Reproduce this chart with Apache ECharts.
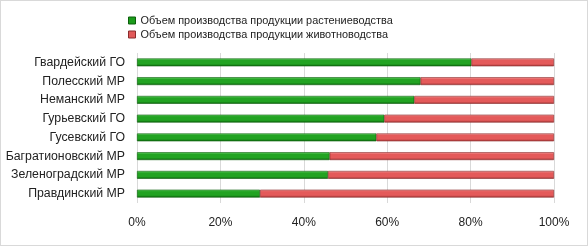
<!DOCTYPE html>
<html>
<head>
<meta charset="utf-8">
<script src="https://cdn.jsdelivr.net/npm/echarts@6/dist/echarts.min.js"></script>
<style>
  html, body { margin: 0; padding: 0; background: #fff; }
  #chart { width: 586px; height: 244px; border: 1px solid #d9d9d9; }
</style>
</head>
<body>
<div id="chart"></div>
<script>
// районы, снизу вверх
var districts = ['Правдинский МР', 'Зеленоградский МР', 'Багратионовский МР', 'Гусевский ГО',
                 'Гурьевский ГО', 'Неманский МР', 'Полесский МР', 'Гвардейский ГО'];
var cropShare = [29.5, 45.8, 46.2, 57.4, 59.3, 66.5, 68.0, 80.2];
var livestockShare = [70.5, 54.2, 53.8, 42.6, 40.7, 33.5, 32.0, 19.8];
var seriesNames = ['Объем производства продукции растениеводства', 'Объем производства продукции животноводства'];

var font = 'Liberation Sans';

function bevel(top, mid, bot) {
    return new echarts.graphic.LinearGradient(0, 0, 0, 1, [
        { offset: 0, color: top },
        { offset: 0.25, color: mid },
        { offset: 0.7, color: mid },
        { offset: 1, color: bot }
    ]);
}

var chart = echarts.init(document.getElementById('chart'));
var option = {
    animation: false,
    legend: {
        orient: 'vertical',
        left: 122,
        top: 9,
        itemWidth: 7,
        itemHeight: 7,
        itemGap: 3,
        icon: 'rect',
        textStyle: { fontFamily: font, fontSize: 10.9, color: '#222' },
        data: [
            { name: seriesNames[0], itemStyle: { color: '#1c9c1c', borderColor: '#0b5e0b', borderWidth: 1 } },
            { name: seriesNames[1], itemStyle: { color: '#e25a5a', borderColor: '#8a2c2c', borderWidth: 1 } }
        ]
    },
    grid: { left: 136, right: 33, top: 52, bottom: 42 },
    xAxis: {
        type: 'value',
        min: 0,
        max: 100,
        interval: 20,
        axisLabel: { formatter: '{value}%', fontFamily: font, fontSize: 12, color: '#222', margin: 14 },
        axisLine: { show: false },
        axisTick: { show: false },
        splitLine: { lineStyle: { color: '#d9d9d9', width: 1 } }
    },
    yAxis: {
        type: 'category',
        data: districts,
        axisLabel: { fontFamily: font, fontSize: 12.3, color: '#222', margin: 12 },
        axisLine: { show: false },
        axisTick: { show: false }
    },
    series: [
        {
            name: seriesNames[0],
            type: 'bar',
            stack: 'total',
            barWidth: '42%',
            data: cropShare,
            itemStyle: { color: bevel('#74dc74', '#22a322', '#0c640c'), borderColor: '#0b5e0b', borderWidth: 0.6 }
        },
        {
            name: seriesNames[1],
            type: 'bar',
            stack: 'total',
            barWidth: '42%',
            data: livestockShare,
            itemStyle: { color: bevel('#f7a5a5', '#e45a5a', '#a23636'), borderColor: '#8a2c2c', borderWidth: 0.6 }
        }
    ]
};
chart.setOption(option);
</script>
</body>
</html>
